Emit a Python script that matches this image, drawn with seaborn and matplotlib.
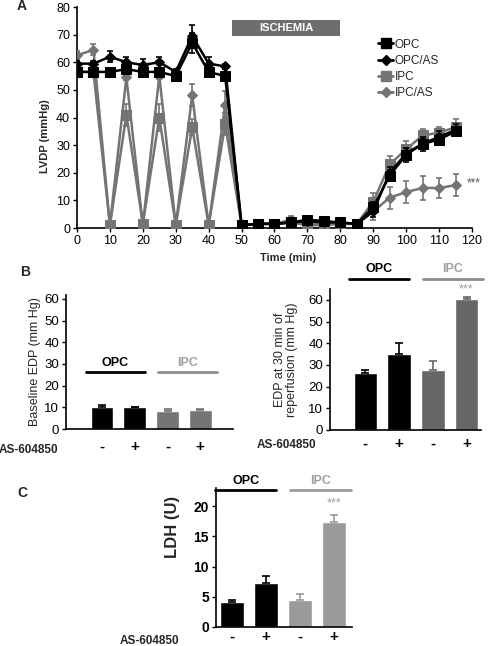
import matplotlib
matplotlib.use("Agg")
import matplotlib.pyplot as plt
from matplotlib.patches import Rectangle
from matplotlib.lines import Line2D
import pandas as pd
import seaborn as sns

# ---- panel A: LVDP time course ----
time_min = [0, 5, 10, 15, 20, 25, 30, 35, 40, 45, 50, 55,
            60, 65, 70, 75, 80, 85, 90, 95, 100, 105, 110, 115]
opc = [56.5, 56.5, 56.5, 57.5, 56.5, 56.5, 55.0, 67.0, 56.5, 55.0, 1.0, 1.5,
       1.5, 2.0, 3.0, 2.5, 2.0, 1.5, 7.5, 19.0, 26.5, 30.5, 32.0, 35.0]
opc_err = [1.5, 1.5, 1.0, 1.5, 2.0, 1.5, 1.0, 3.5, 2.0, 1.5, 0.5, 0.5,
           0.5, 0.5, 0.5, 0.5, 0.5, 0.5, 2.0, 2.0, 2.5, 2.5, 2.0, 1.5]
opc_as = [59.5, 59.5, 62.0, 60.0, 59.0, 60.0, 56.5, 69.5, 59.5, 58.5, 1.0, 1.5,
          1.5, 2.0, 2.5, 2.0, 2.0, 1.5, 6.0, 20.0, 27.0, 30.5, 33.0, 35.5]
opc_as_err = [1.0, 1.0, 2.0, 2.0, 2.0, 2.0, 1.0, 4.0, 2.5, 1.0, 0.5, 0.5,
              0.5, 1.0, 0.5, 0.5, 0.5, 0.5, 2.0, 2.0, 2.0, 2.0, 2.0, 2.0]
ipc = [56.5, 56.5, 1.0, 41.0, 1.5, 40.0, 1.0, 36.5, 1.0, 37.5, 1.0, 1.5,
       1.5, 2.0, 1.0, 1.0, 1.5, 1.5, 9.5, 23.0, 28.5, 33.5, 34.5, 36.5]
ipc_err = [2.0, 2.0, 0.5, 4.0, 0.5, 5.0, 0.5, 3.0, 0.5, 4.0, 0.5, 0.5,
           0.5, 1.0, 0.5, 0.5, 0.5, 0.5, 3.0, 3.0, 3.0, 2.5, 2.0, 3.0]
ipc_as = [62.5, 64.5, 1.0, 54.5, 1.0, 55.0, 1.0, 48.0, 1.0, 44.5, 1.0, 1.5,
          1.5, 3.0, 1.5, 1.5, 1.5, 1.5, 6.0, 11.0, 13.0, 14.5, 14.5, 15.5]
ipc_as_err = [1.5, 2.0, 0.5, 1.0, 0.5, 1.0, 0.5, 4.0, 0.5, 5.0, 0.5, 0.5,
              0.5, 1.5, 0.5, 0.5, 0.5, 0.5, 3.0, 4.0, 4.0, 4.5, 3.5, 4.0]

# ---- panels B and C: bars ----
groups = ["OPC", "OPC/AS", "IPC", "IPC/AS"]
as_labels = ["-", "+", "-", "+"]
baseline_edp = [10.0, 10.0, 8.5, 8.7]
baseline_edp_err = [1.0, 0.3, 0.8, 0.5]
reperf_edp = [26.3, 35.0, 27.5, 60.5]
reperf_edp_err = [1.3, 5.2, 4.2, 1.0]
ldh = [4.2, 7.3, 4.5, 17.3]
ldh_err = [0.2, 1.2, 1.0, 1.2]

BLACK = "#000000"
GRAY = "#747474"
LIGHT = "#9a9a9a"

sns.set_theme(style="ticks")
plt.rcParams.update({
    "font.family": ["Liberation Sans", "DejaVu Sans"],
    "axes.linewidth": 1.2,
    "axes.edgecolor": "black",
    "xtick.color": "black",
    "ytick.color": "black",
})

fig = plt.figure(figsize=(5.02, 6.46), dpi=100)
W, H = 502, 646


def px_axes(x0, y_top, x1, y_bot):
    return fig.add_axes([x0 / W, 1 - y_bot / H, (x1 - x0) / W, (y_bot - y_top) / H])


def ftext(x, y, s, **kw):
    fig.text(x / W, 1 - y / H, s, **kw)


# ---------------- A ----------------
axA = px_axes(77, 7, 472, 228)
series = [
    ("IPC/AS", ipc_as, ipc_as_err, GRAY, "D", 5.5),
    ("IPC", ipc, ipc_err, GRAY, "s", 7),
    ("OPC/AS", opc_as, opc_as_err, BLACK, "D", 5.5),
    ("OPC", opc, opc_err, BLACK, "s", 7),
]
for z, (name, vals, err, col, mk, ms) in enumerate(series):
    axA.errorbar(time_min, vals, yerr=err, fmt="none", ecolor=col,
                 elinewidth=1.2, capsize=2.5, capthick=1.2, zorder=2 + z)
    sns.lineplot(x=time_min, y=vals, ax=axA, color=col, marker=mk,
                 markersize=ms, markeredgecolor=col, linewidth=1.8,
                 zorder=3 + z, legend=False)

axA.set_xlim(0, 120)
axA.set_ylim(0, 80)
axA.set_xticks(range(0, 121, 10))
axA.set_yticks(range(0, 81, 10))
axA.tick_params(labelsize=9, length=3, width=1, pad=2)
sns.despine(ax=axA)
axA.set_xlabel("")
axA.set_ylabel("")

axA.add_patch(Rectangle((47, 69.5), 33, 5.8, facecolor="#6e6e6e",
                        edgecolor="none", clip_on=False))
axA.text(63.5, 72.4, "ISCHEMIA", color="white", fontsize=8,
         fontweight="bold", ha="center", va="center")
axA.text(118.5, 16.3, "***", color="#555555", fontsize=8.5,
         ha="left", va="center")

handles = [
    Line2D([], [], color=BLACK, marker="s", markersize=7, linewidth=2),
    Line2D([], [], color=BLACK, marker="D", markersize=5, linewidth=2),
    Line2D([], [], color=GRAY, marker="s", markersize=7, linewidth=2),
    Line2D([], [], color=GRAY, marker="D", markersize=5, linewidth=2),
]
axA.legend(handles, ["OPC", "OPC/AS", "IPC", "IPC/AS"], loc="upper left",
           bbox_to_anchor=(0.735, 0.905), frameon=False, fontsize=8.5,
           handlelength=1.3, handletextpad=0.1, labelspacing=0.35)

ftext(45, 136, "LVDP (mmHg)", rotation=90, ha="center", va="center",
      fontsize=8, fontweight="bold")
ftext(288, 258, "Time (min)", ha="center", va="center", fontsize=8,
      fontweight="bold")
ftext(22, 6, "A", fontsize=10, fontweight="bold", ha="center", va="center")


# ---------------- bars helper ----------------
def bar_panel(ax, vals, err, colors, ylim, xlim, ipc_col, lab_y, star=None,
              tick_size=9.5, xpad=8):
    df = pd.DataFrame({"group": groups, "value": vals})
    sns.barplot(data=df, x="group", y="value", hue="group", palette=colors,
                legend=False, width=0.7, saturation=1, ax=ax)
    for i in range(4):
        ax.errorbar(i, vals[i], yerr=[[0], [err[i]]], fmt="none",
                    ecolor=colors[i], elinewidth=1.2, capsize=3, capthick=1.2)
    ax.set_xlim(*xlim)
    ax.set_ylim(*ylim)
    ax.set_xticks(range(4))
    ax.set_xticklabels(as_labels, fontsize=11, fontweight="bold")
    ax.tick_params(axis="x", length=0, pad=xpad)
    ax.tick_params(axis="y", labelsize=tick_size, length=3, width=1, pad=2)
    ax.set_xlabel("")
    ax.set_ylabel("")
    sns.despine(ax=ax)
    # group annotations
    ax.plot([-0.5, 1.3], [lab_y, lab_y], color=BLACK, lw=2, clip_on=False)
    ax.plot([1.7, 3.5], [lab_y, lab_y], color=ipc_col, lw=2, clip_on=False)
    off = (ylim[1] - ylim[0]) * 0.07
    ax.text(0.4, lab_y + off, "OPC", ha="center", va="center", fontsize=9,
            fontweight="bold", color=BLACK, clip_on=False)
    ax.text(2.6, lab_y + off, "IPC", ha="center", va="center", fontsize=9,
            fontweight="bold", color="#a0a0a0", clip_on=False)
    if star is not None:
        ax.text(3, star, "***", ha="center", va="center", fontsize=9,
                color="#a0a0a0", clip_on=False)


# ---------------- B left ----------------
axB1 = px_axes(66, 294.5, 233, 429)
bar_panel(axB1, baseline_edp, baseline_edp_err, [BLACK, BLACK, GRAY, GRAY],
          (0, 62), (-1.1, 4.0), "#8c8c8c", 26.3)
axB1.set_yticks(range(0, 61, 10))
ftext(35, 362, "Baseline EDP (mm Hg)", rotation=90, ha="center",
      va="center", fontsize=9)
ftext(25, 272, "B", fontsize=10, fontweight="bold", ha="center", va="center")
ftext(29, 450, "AS-604850", fontsize=8.5, fontweight="bold", ha="center",
      va="center")

# ---------------- B right ----------------
axB2 = px_axes(330, 289, 481, 430)
bar_panel(axB2, reperf_edp, reperf_edp_err, [BLACK, BLACK, "#666666", "#666666"],
          (0, 65), (-1.05, 3.43), "#8c8c8c", 69.6, star=65, xpad=5)
axB2.set_yticks(range(0, 61, 10))
ftext(286, 360, "EDP at 30 min of\nreperfusion (mm Hg)", rotation=90,
      ha="center", va="center", fontsize=9, linespacing=1.1)
ftext(287, 445, "AS-604850", fontsize=8.5, fontweight="bold", ha="center",
      va="center")

# ---------------- C ----------------
axC = px_axes(216, 488, 352, 627)
bar_panel(axC, ldh, ldh_err, [BLACK, BLACK, LIGHT, LIGHT],
          (0, 23), (-0.47, 3.53), LIGHT, 22.6, star=20.5,
          tick_size=10, xpad=2)
axC.set_yticks(range(0, 21, 5))
for t in axC.get_yticklabels():
    t.set_fontweight("bold")
ftext(173, 527, "LDH (U)", rotation=90, ha="center", va="center",
      fontsize=12, fontweight="bold")
ftext(22, 493, "C", fontsize=10, fontweight="bold", ha="center", va="center")
ftext(150, 641, "AS-604850", fontsize=8.5, fontweight="bold", ha="center",
      va="center")

fig.savefig("out.png", dpi=100)
